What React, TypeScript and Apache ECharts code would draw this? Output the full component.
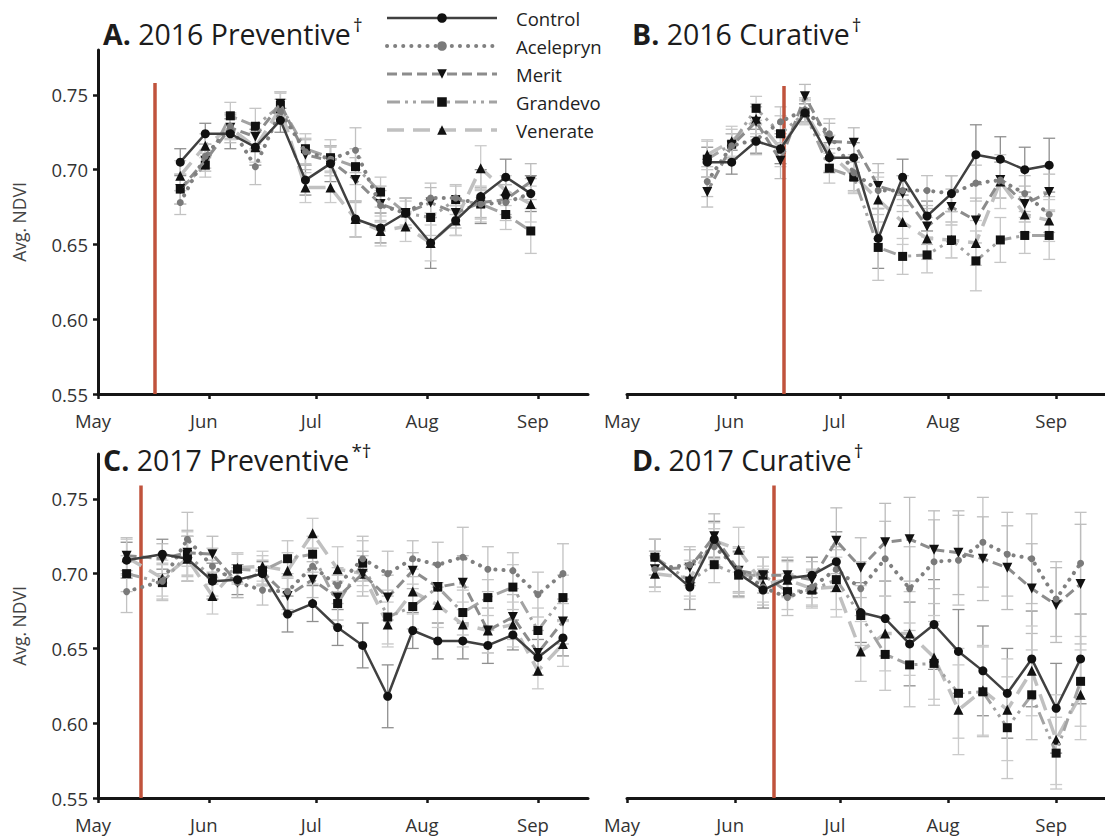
import React, { useEffect, useRef } from "react";
import * as echarts from "echarts";

// Treatments, in legend order
const TREATMENTS = ["Control", "Acelepryn", "Merit", "Grandevo", "Venerate"];

// Month tick labels and their first days
const MONTH_LABELS = ["May", "Jun", "Jul", "Aug", "Sep"];
const MONTH_STARTS = ["05-01", "06-01", "07-01", "08-01", "09-01"];

// Sampling dates
const dates2016 = [
  "2016-05-24", "2016-05-31", "2016-06-07", "2016-06-14", "2016-06-21",
  "2016-06-28", "2016-07-05", "2016-07-12", "2016-07-19", "2016-07-26",
  "2016-08-02", "2016-08-09", "2016-08-16", "2016-08-23", "2016-08-30",
];
const dates2017 = [
  "2017-05-09", "2017-05-19", "2017-05-26", "2017-06-02", "2017-06-09",
  "2017-06-16", "2017-06-23", "2017-06-30", "2017-07-07", "2017-07-14",
  "2017-07-21", "2017-07-28", "2017-08-04", "2017-08-11", "2017-08-18",
  "2017-08-25", "2017-09-01", "2017-09-08",
];

// Application dates (red lines)
const applicationDates = ["2016-05-17", "2016-06-15", "2017-05-13", "2017-06-12"];

// A. 2016 Preventive — mean NDVI
const prev2016Control = [0.705, 0.724, 0.724, 0.715, 0.733, 0.693, 0.704, 0.667, 0.661, 0.671, 0.651, 0.666, 0.682, 0.695, 0.684];
const prev2016Acelepryn = [0.678, 0.709, 0.729, 0.702, 0.739, 0.712, 0.707, 0.713, 0.676, 0.671, 0.681, 0.681, 0.677, 0.678, 0.684];
const prev2016Merit = [0.687, 0.706, 0.728, 0.722, 0.744, 0.710, 0.706, 0.693, 0.677, 0.671, 0.678, 0.671, 0.678, 0.680, 0.692];
const prev2016Grandevo = [0.687, 0.703, 0.736, 0.729, 0.743, 0.714, 0.708, 0.702, 0.685, 0.671, 0.668, 0.680, 0.677, 0.670, 0.659];
const prev2016Venerate = [0.696, 0.716, 0.728, 0.715, 0.741, 0.688, 0.688, 0.667, 0.659, 0.662, 0.651, 0.666, 0.701, 0.686, 0.677];
// A. standard errors
const prev2016ControlSE = [0.009, 0.007, 0.010, 0.012, 0.008, 0.010, 0.012, 0.012, 0.010, 0.010, 0.017, 0.010, 0.018, 0.012, 0.012];
const prev2016AceleprynSE = [0.008, 0.008, 0.008, 0.012, 0.008, 0.009, 0.008, 0.015, 0.010, 0.010, 0.010, 0.008, 0.010, 0.012, 0.010];
const prev2016MeritSE = [0.010, 0.007, 0.010, 0.009, 0.008, 0.010, 0.010, 0.015, 0.012, 0.010, 0.010, 0.010, 0.010, 0.010, 0.012];
const prev2016GrandevoSE = [0.010, 0.008, 0.009, 0.012, 0.009, 0.010, 0.012, 0.012, 0.010, 0.008, 0.012, 0.010, 0.012, 0.010, 0.015];
const prev2016VenerateSE = [0.010, 0.008, 0.008, 0.010, 0.010, 0.010, 0.010, 0.012, 0.010, 0.010, 0.012, 0.010, 0.015, 0.010, 0.012];

// B. 2016 Curative — mean NDVI
const cur2016Control = [0.705, 0.705, 0.719, 0.714, 0.738, 0.708, 0.708, 0.654, 0.695, 0.669, 0.684, 0.710, 0.707, 0.700, 0.703];
const cur2016Acelepryn = [0.692, 0.716, 0.720, 0.732, 0.740, 0.724, 0.698, 0.686, 0.686, 0.686, 0.684, 0.691, 0.693, 0.684, 0.670];
const cur2016Merit = [0.685, 0.716, 0.732, 0.706, 0.749, 0.719, 0.718, 0.689, 0.684, 0.662, 0.675, 0.666, 0.693, 0.677, 0.685];
const cur2016Grandevo = [0.707, 0.717, 0.741, 0.724, 0.738, 0.701, 0.695, 0.648, 0.642, 0.643, 0.653, 0.639, 0.653, 0.656, 0.656];
const cur2016Venerate = [0.710, 0.719, 0.734, 0.714, 0.739, 0.711, 0.696, 0.680, 0.665, 0.654, 0.653, 0.651, 0.692, 0.670, 0.666];
// B. standard errors
const cur2016ControlSE = [0.010, 0.008, 0.008, 0.010, 0.006, 0.010, 0.010, 0.020, 0.012, 0.010, 0.012, 0.020, 0.015, 0.015, 0.018];
const cur2016AceleprynSE = [0.010, 0.008, 0.010, 0.010, 0.008, 0.010, 0.012, 0.012, 0.010, 0.010, 0.012, 0.012, 0.012, 0.012, 0.012];
const cur2016MeritSE = [0.010, 0.008, 0.010, 0.012, 0.008, 0.012, 0.010, 0.015, 0.012, 0.012, 0.012, 0.015, 0.012, 0.012, 0.012];
const cur2016GrandevoSE = [0.012, 0.010, 0.008, 0.012, 0.008, 0.010, 0.010, 0.022, 0.012, 0.012, 0.012, 0.020, 0.015, 0.012, 0.016];
const cur2016VenerateSE = [0.010, 0.010, 0.010, 0.012, 0.008, 0.012, 0.012, 0.015, 0.015, 0.014, 0.012, 0.015, 0.018, 0.012, 0.014];

// C. 2017 Preventive — mean NDVI
const prev2017Control = [0.709, 0.713, 0.710, 0.695, 0.696, 0.700, 0.673, 0.680, 0.664, 0.652, 0.618, 0.662, 0.655, 0.655, 0.652, 0.659, 0.644, 0.657];
const prev2017Acelepryn = [0.688, 0.695, 0.723, 0.705, 0.694, 0.689, 0.688, 0.705, 0.692, 0.710, 0.700, 0.710, 0.706, 0.711, 0.703, 0.702, 0.686, 0.700];
const prev2017Merit = [0.712, 0.710, 0.714, 0.713, 0.694, 0.701, 0.685, 0.696, 0.684, 0.700, 0.684, 0.702, 0.691, 0.694, 0.662, 0.671, 0.647, 0.668];
const prev2017Grandevo = [0.700, 0.694, 0.713, 0.697, 0.703, 0.702, 0.710, 0.713, 0.680, 0.707, 0.671, 0.678, 0.691, 0.674, 0.684, 0.691, 0.662, 0.684];
const prev2017Venerate = [0.711, 0.697, 0.710, 0.685, 0.704, 0.705, 0.702, 0.727, 0.703, 0.700, 0.666, 0.688, 0.679, 0.666, 0.662, 0.666, 0.635, 0.653];
// C. standard errors
const prev2017ControlSE = [0.012, 0.010, 0.015, 0.012, 0.010, 0.008, 0.012, 0.012, 0.012, 0.015, 0.021, 0.012, 0.012, 0.012, 0.012, 0.010, 0.012, 0.012];
const prev2017AceleprynSE = [0.014, 0.012, 0.018, 0.012, 0.010, 0.010, 0.012, 0.012, 0.012, 0.015, 0.015, 0.012, 0.015, 0.020, 0.015, 0.012, 0.015, 0.020];
const prev2017MeritSE = [0.012, 0.010, 0.015, 0.012, 0.010, 0.008, 0.012, 0.012, 0.015, 0.015, 0.015, 0.012, 0.015, 0.018, 0.015, 0.015, 0.015, 0.015];
const prev2017GrandevoSE = [0.012, 0.012, 0.015, 0.012, 0.010, 0.010, 0.012, 0.012, 0.015, 0.015, 0.018, 0.015, 0.015, 0.015, 0.012, 0.015, 0.015, 0.015];
const prev2017VenerateSE = [0.012, 0.012, 0.015, 0.012, 0.010, 0.010, 0.012, 0.010, 0.015, 0.012, 0.015, 0.015, 0.015, 0.015, 0.015, 0.015, 0.012, 0.015];

// D. 2017 Curative — mean NDVI
const cur2017Control = [0.711, 0.691, 0.723, 0.700, 0.689, 0.697, 0.699, 0.708, 0.674, 0.670, 0.653, 0.666, 0.648, 0.635, 0.620, 0.643, 0.610, 0.643];
const cur2017Acelepryn = [0.703, 0.706, 0.718, 0.703, 0.691, 0.684, 0.691, 0.703, 0.690, 0.710, 0.690, 0.708, 0.709, 0.721, 0.713, 0.710, 0.683, 0.707];
const cur2017Merit = [0.703, 0.704, 0.725, 0.702, 0.699, 0.699, 0.696, 0.722, 0.704, 0.721, 0.723, 0.716, 0.714, 0.710, 0.704, 0.690, 0.679, 0.693];
const cur2017Grandevo = [0.711, 0.695, 0.706, 0.699, 0.699, 0.688, 0.689, 0.696, 0.672, 0.646, 0.639, 0.640, 0.620, 0.621, 0.597, 0.619, 0.580, 0.628];
const cur2017Venerate = [0.700, 0.697, 0.722, 0.716, 0.693, 0.696, 0.690, 0.691, 0.648, 0.660, 0.660, 0.644, 0.609, 0.622, 0.609, 0.635, 0.589, 0.619];
// D. standard errors
const cur2017ControlSE = [0.012, 0.015, 0.012, 0.015, 0.012, 0.012, 0.012, 0.020, 0.020, 0.025, 0.028, 0.030, 0.028, 0.030, 0.030, 0.032, 0.030, 0.030];
const cur2017AceleprynSE = [0.012, 0.012, 0.012, 0.015, 0.012, 0.012, 0.012, 0.015, 0.018, 0.025, 0.028, 0.028, 0.030, 0.030, 0.028, 0.030, 0.025, 0.034];
const cur2017MeritSE = [0.012, 0.012, 0.015, 0.015, 0.012, 0.012, 0.012, 0.022, 0.020, 0.026, 0.028, 0.026, 0.028, 0.028, 0.028, 0.030, 0.025, 0.040];
const cur2017GrandevoSE = [0.012, 0.012, 0.012, 0.015, 0.012, 0.012, 0.012, 0.020, 0.020, 0.024, 0.028, 0.028, 0.030, 0.030, 0.034, 0.030, 0.024, 0.030];
const cur2017VenerateSE = [0.012, 0.012, 0.012, 0.015, 0.012, 0.012, 0.012, 0.020, 0.020, 0.025, 0.028, 0.028, 0.030, 0.030, 0.034, 0.030, 0.030, 0.030];

// Y-axis tick values
const Y_TICKS = [0.55, 0.6, 0.65, 0.7, 0.75];

const FONT = "'Open Sans', 'DejaVu Sans', sans-serif";

// Days since May 1 of the same year
function dayOfSeason(date: string): number {
  const [y, m, d] = date.split("-").map(Number);
  return (Date.UTC(y, m - 1, d) - Date.UTC(y, 4, 1)) / 86400000;
}

type Style = {
  line: string;
  width: number;
  dash: number[] | "solid";
  cap: "butt" | "round";
  symbol: string;
  rotate: number;
  size: number;
  mark: string;
  z: number;
  bar: string;
};

const STYLES: Record<string, Style> = {
  Control: { line: "#404040", width: 2.5, dash: "solid", cap: "butt", symbol: "circle", rotate: 0, size: 9, mark: "#111", z: 10, bar: "#8f8f8f" },
  Acelepryn: { line: "#808080", width: 4, dash: [0.1, 8], cap: "round", symbol: "circle", rotate: 0, size: 7, mark: "#7a7a7a", z: 9, bar: "#c2c2c2" },
  Merit: { line: "#8c8c8c", width: 3, dash: [10, 5], cap: "butt", symbol: "triangle", rotate: 180, size: 10, mark: "#111", z: 8, bar: "#bcbcbc" },
  Grandevo: { line: "#a3a3a3", width: 3, dash: [13, 5, 3, 5, 3, 5], cap: "butt", symbol: "rect", rotate: 0, size: 9, mark: "#111", z: 7, bar: "#c6c6c6" },
  Venerate: { line: "#c0c0c0", width: 3.5, dash: [17, 9], cap: "butt", symbol: "triangle", rotate: 0, size: 10, mark: "#111", z: 6, bar: "#cbcbcb" },
};

type Panel = {
  title: string;
  sup: string;
  dates: string[];
  app: string;
  appTop: number;
  values: number[][];
  errors: number[][];
  left: number;
  top: number;
  titleTop: number;
  showY: boolean;
};

const PANELS: Panel[] = [
  {
    title: "A.", sup: "†", dates: dates2016, app: applicationDates[0], appTop: 0.758,
    values: [prev2016Control, prev2016Acelepryn, prev2016Merit, prev2016Grandevo, prev2016Venerate],
    errors: [prev2016ControlSE, prev2016AceleprynSE, prev2016MeritSE, prev2016GrandevoSE, prev2016VenerateSE],
    left: 98, top: 50, titleTop: 15, showY: true,
  },
  {
    title: "B.", sup: "†", dates: dates2016, app: applicationDates[1], appTop: 0.756,
    values: [cur2016Control, cur2016Acelepryn, cur2016Merit, cur2016Grandevo, cur2016Venerate],
    errors: [cur2016ControlSE, cur2016AceleprynSE, cur2016MeritSE, cur2016GrandevoSE, cur2016VenerateSE],
    left: 627, top: 50, titleTop: 15, showY: false,
  },
  {
    title: "C.", sup: "*†", dates: dates2017, app: applicationDates[2], appTop: 0.759,
    values: [prev2017Control, prev2017Acelepryn, prev2017Merit, prev2017Grandevo, prev2017Venerate],
    errors: [prev2017ControlSE, prev2017AceleprynSE, prev2017MeritSE, prev2017GrandevoSE, prev2017VenerateSE],
    left: 98, top: 454, titleTop: 441, showY: true,
  },
  {
    title: "D.", sup: "†", dates: dates2017, app: applicationDates[3], appTop: 0.759,
    values: [cur2017Control, cur2017Acelepryn, cur2017Merit, cur2017Grandevo, cur2017Venerate],
    errors: [cur2017ControlSE, cur2017AceleprynSE, cur2017MeritSE, cur2017GrandevoSE, cur2017VenerateSE],
    left: 627, top: 454, titleTop: 441, showY: false,
  },
];

const PANEL_NAMES = ["2016 Preventive", "2016 Curative", "2017 Preventive", "2017 Curative"];

function buildOption() {
  const grids: any[] = [];
  const xAxes: any[] = [];
  const yAxes: any[] = [];
  const titles: any[] = [];
  const series: any[] = [];

  PANELS.forEach((p, gi) => {
    const year = p.dates[0].slice(0, 4);
    const monthDays = MONTH_STARTS.map((m) => dayOfSeason(`${year}-${m}`));
    const days = p.dates.map(dayOfSeason);

    grids.push({ left: p.left, top: p.top, width: 490, height: 344, containLabel: false });

    xAxes.push({
      type: "value",
      gridIndex: gi,
      min: 0,
      max: 137,
      axisLine: { show: true, lineStyle: { color: "#151515", width: 3 } },
      axisTick: { show: true, customValues: monthDays, length: 5, lineStyle: { color: "#151515", width: 2.5 } },
      axisLabel: {
        customValues: monthDays,
        formatter: (v: number) => MONTH_LABELS[monthDays.indexOf(v)] ?? "",
        fontFamily: FONT,
        fontSize: 18.5,
        color: "#333",
        margin: 17,
        padding: [0, 10, 0, 0],
      },
      splitLine: { show: false },
    });

    yAxes.push({
      type: "value",
      gridIndex: gi,
      show: p.showY,
      min: 0.55,
      max: 0.78,
      name: p.showY ? "Avg. NDVI" : "",
      nameLocation: "middle",
      nameGap: 70,
      nameTextStyle: { fontFamily: FONT, fontSize: 17.5, color: "#444" },
      axisLine: { show: true, lineStyle: { color: "#151515", width: 3 } },
      axisTick: { show: true, customValues: Y_TICKS, length: 5, lineStyle: { color: "#151515", width: 2.5 } },
      axisLabel: {
        customValues: Y_TICKS,
        formatter: (v: number) => v.toFixed(2),
        fontFamily: FONT,
        fontSize: 18.5,
        color: "#333",
        margin: 10,
      },
      splitLine: { show: false },
    });

    titles.push({
      text: `{b|${p.title}} ${PANEL_NAMES[gi]}{s|${p.sup}}`,
      left: p.left + 5,
      top: p.titleTop,
      padding: 0,
      textStyle: {
        fontFamily: FONT,
        fontSize: 28.5,
        fontWeight: "normal",
        color: "#1c1c1c",
        rich: {
          b: { fontFamily: FONT, fontSize: 28.5, fontWeight: "bold", color: "#1c1c1c" },
          s: { fontFamily: FONT, fontSize: 19, color: "#1c1c1c", verticalAlign: "top", padding: [0, 0, 18, 2] },
        },
      },
    });

    // Error bars first so lines and markers sit on top
    TREATMENTS.forEach((t, ti) => {
      const st = STYLES[t];
      const vals = p.values[ti];
      const errs = p.errors[ti];
      series.push({
        type: "custom",
        name: `${t} SE ${gi}`,
        xAxisIndex: gi,
        yAxisIndex: gi,
        silent: true,
        z: 1,
        data: days.map((d, i) => [d, vals[i] - errs[i], vals[i] + errs[i]]),
        encode: { x: 0, y: [1, 2] },
        renderItem: (_params: any, api: any) => {
          const x = api.value(0);
          const lo = api.coord([x, api.value(1)]);
          const hi = api.coord([x, api.value(2)]);
          const half = 6;
          const style = { stroke: st.bar, lineWidth: 1.3, fill: "none" };
          return {
            type: "group",
            children: [
              { type: "line", shape: { x1: lo[0], y1: lo[1], x2: hi[0], y2: hi[1] }, style },
              { type: "line", shape: { x1: lo[0] - half, y1: lo[1], x2: lo[0] + half, y2: lo[1] }, style },
              { type: "line", shape: { x1: hi[0] - half, y1: hi[1], x2: hi[0] + half, y2: hi[1] }, style },
            ],
          };
        },
      });
    });

    TREATMENTS.forEach((t, ti) => {
      const st = STYLES[t];
      const s: any = {
        type: "line",
        name: t,
        xAxisIndex: gi,
        yAxisIndex: gi,
        data: days.map((d, i) => [d, p.values[ti][i]]),
        symbol: st.symbol,
        symbolSize: st.size,
        symbolRotate: st.rotate,
        showAllSymbol: true,
        z: st.z,
        silent: true,
        lineStyle: { color: st.line, width: st.width, type: st.dash, cap: st.cap },
        itemStyle: { color: st.mark, borderWidth: 0 },
        emphasis: { disabled: true },
      };
      if (t === "Control") {
        s.markLine = {
          silent: true,
          symbol: ["none", "none"],
          label: { show: false },
          lineStyle: { color: "#c0533c", width: 3.5, type: "solid" },
          emphasis: { disabled: true },
          data: [[{ coord: [dayOfSeason(p.app), 0.55] }, { coord: [dayOfSeason(p.app), p.appTop] }]],
        };
      }
      series.push(s);
    });
  });

  return {
    animation: false,
    backgroundColor: "#ffffff",
    title: titles,
    grid: grids,
    xAxis: xAxes,
    yAxis: yAxes,
    legend: {
      data: TREATMENTS.map((t) => ({
        name: t,
        lineStyle: {
          color: STYLES[t].line,
          width: STYLES[t].width,
          type: STYLES[t].dash,
          cap: STYLES[t].cap,
        },
      })),
      orient: "vertical",
      left: 380,
      top: 2,
      itemWidth: 110,
      itemHeight: 12,
      itemGap: 6,
      selectedMode: false,
      textStyle: { fontFamily: FONT, fontSize: 18.5, color: "#222", lineHeight: 22, padding: [0, 0, 0, 14] },
    },
    series,
  };
}

export default function App() {
  const ref = useRef<HTMLDivElement>(null);
  useEffect(() => {
    if (!ref.current) return;
    const chart = echarts.init(ref.current, undefined, { renderer: "svg" });
    chart.setOption(buildOption() as any);
    return () => chart.dispose();
  }, []);
  return (
    <div
      ref={ref}
      style={{ position: "absolute", left: 0, top: 0, width: 1105, height: 838, background: "#fff" }}
    />
  );
}
